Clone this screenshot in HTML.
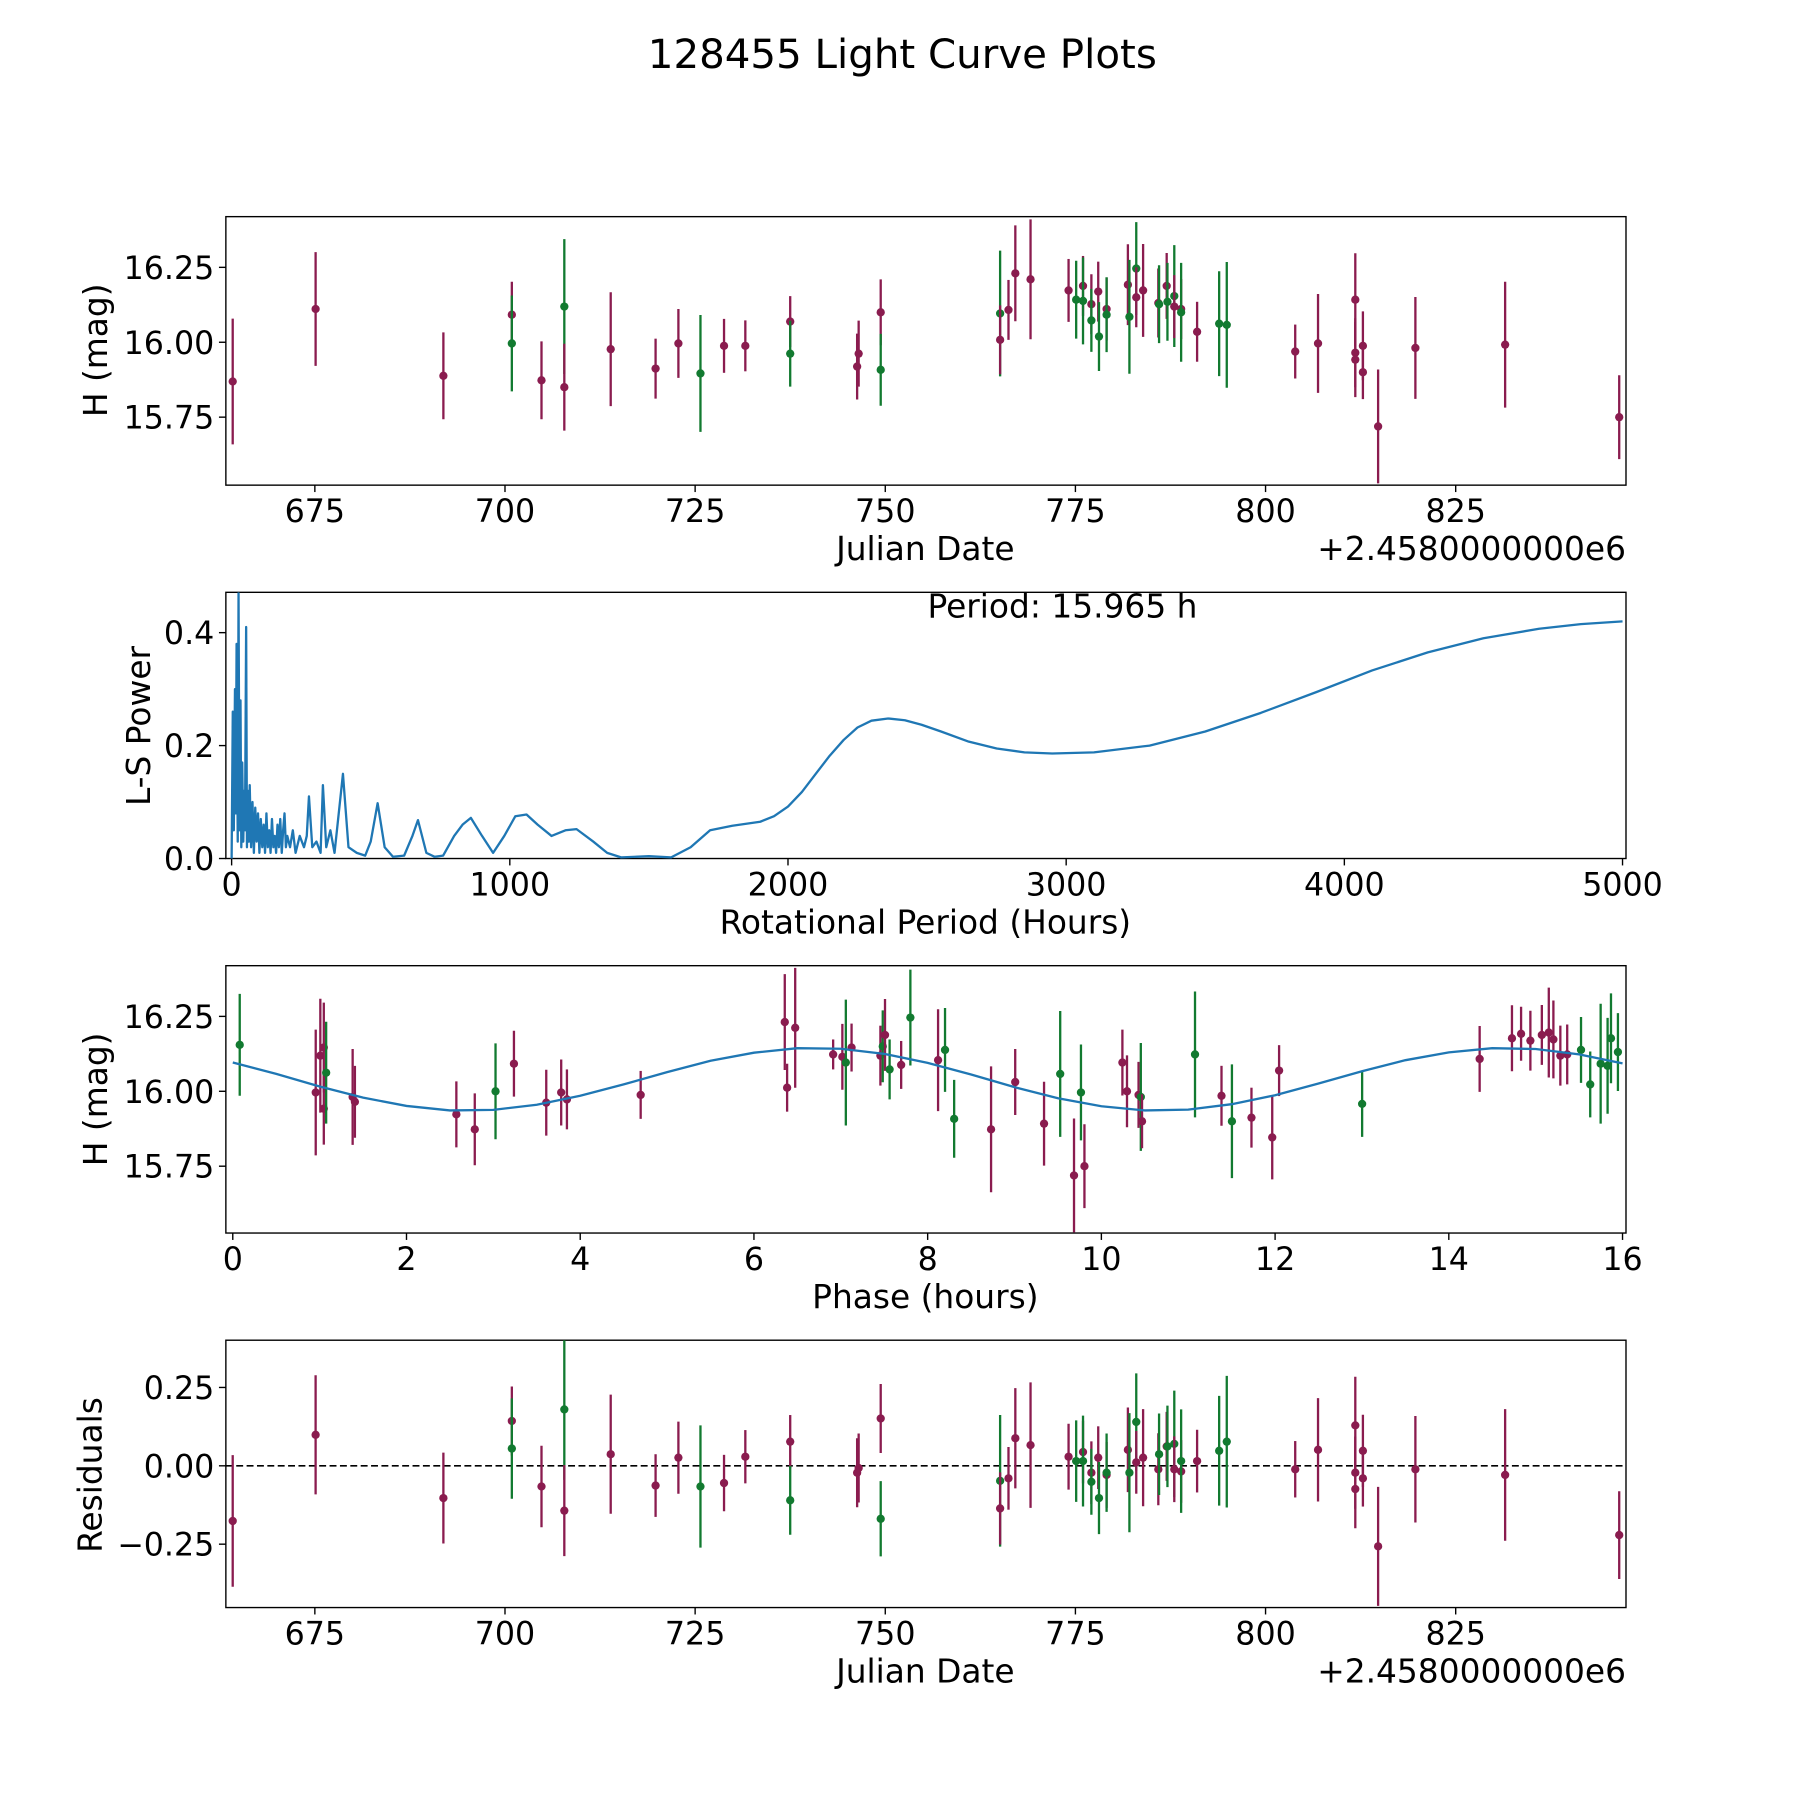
<!DOCTYPE html>
<html><head><meta charset="utf-8"><style>
html,body{margin:0;padding:0;background:#fff;}
svg text{font-family:"DejaVu Sans","Liberation Sans",sans-serif;fill:#000;}
</style></head><body>
<svg id="fig" width="1800" height="1800" viewBox="0 0 1562 1562" xmlns="http://www.w3.org/2000/svg">
<rect width="1562" height="1562" fill="#fff"/>
<text x="783" y="59" font-size="35" text-anchor="middle">128455 Light Curve Plots</text>
<defs>
<clipPath id="c1"><rect x="196" y="188" width="1215" height="233"/></clipPath>
<clipPath id="c2"><rect x="196" y="514" width="1215" height="231"/></clipPath>
<clipPath id="c3"><rect x="196" y="838" width="1215" height="232"/></clipPath>
<clipPath id="c4"><rect x="196" y="1163" width="1215" height="232"/></clipPath>
</defs>
<g id="layer"></g>
</svg>
<script>
// ---- light curve data (Julian Date offsets, H mag, error, band) ----
const jd  = [664.2,675.1,691.9,700.9,700.9,704.8,707.8,707.8,713.9,719.8,722.8,725.7,728.8,731.6,737.5,737.5,746.3,746.5,749.4,749.4,765.1,765.1,766.2,767.1,769.1,774.1,775.1,776.0,776.0,777.1,777.1,778.0,778.1,779.1,779.1,781.9,782.1,783.0,783.0,783.9,785.9,786.0,787.0,787.1,788.0,788.0,788.9,788.9,791.0,793.9,794.9,803.9,806.9,811.8,811.8,811.8,812.8,812.8,814.8,819.7,831.5,846.5];
const mag = [15.869,16.111,15.888,16.092,15.996,15.873,16.119,15.85,15.977,15.912,15.996,15.896,15.988,15.988,16.069,15.962,15.919,15.962,16.1,15.908,16.096,16.008,16.108,16.23,16.21,16.173,16.142,16.188,16.138,16.127,16.073,16.169,16.019,16.111,16.092,16.192,16.085,16.246,16.15,16.173,16.131,16.127,16.188,16.135,16.154,16.119,16.111,16.1,16.035,16.062,16.058,15.969,15.996,16.142,15.965,15.942,15.988,15.9,15.719,15.981,15.992,15.75];
const err = [0.21,0.19,0.145,0.11,0.16,0.13,0.225,0.145,0.19,0.1,0.115,0.195,0.09,0.085,0.085,0.11,0.11,0.11,0.11,0.12,0.21,0.115,0.1,0.16,0.2,0.105,0.13,0.1,0.145,0.1,0.105,0.1,0.115,0.105,0.125,0.135,0.19,0.155,0.1,0.155,0.115,0.13,0.11,0.13,0.17,0.105,0.1,0.165,0.1,0.175,0.21,0.09,0.165,0.155,0.115,0.125,0.115,0.09,0.19,0.17,0.21,0.14];
const band= ["m","m","m","m","g","m","g","m","m","m","m","g","m","m","m","g","m","m","m","g","g","m","m","m","m","m","g","m","g","m","g","m","g","m","g","m","g","g","m","m","m","g","m","g","g","m","m","g","m","g","g","m","m","m","m","m","m","m","m","m","m","m"];
const resid=[-0.176,0.099,-0.103,0.143,0.055,-0.066,0.18,-0.143,0.037,-0.063,0.026,-0.066,-0.055,0.029,0.077,-0.11,-0.022,-0.007,0.151,-0.169,-0.048,-0.136,-0.04,0.088,0.066,0.029,0.015,0.044,0.015,-0.022,-0.051,0.026,-0.103,-0.029,-0.022,0.051,-0.022,0.14,0.011,0.026,-0.011,0.037,0.062,0.062,0.07,-0.011,-0.018,0.015,0.015,0.048,0.077,-0.011,0.051,0.129,-0.022,-0.074,0.048,-0.04,-0.257,-0.011,-0.029,-0.221];
// ---- phased data ----
const ph   =[0.08,0.955,1.008,1.048,1.048,1.075,1.38,1.406,2.574,2.786,3.025,3.237,3.609,3.781,3.847,4.696,6.355,6.382,6.475,6.912,7.018,7.058,7.124,7.456,7.483,7.509,7.562,7.695,7.801,8.12,8.2,8.305,8.73,9.008,9.34,9.526,9.685,9.765,9.805,10.242,10.295,10.428,10.454,10.468,11.078,11.383,11.503,11.728,11.967,12.046,13.002,14.355,14.727,14.832,14.939,15.071,15.151,15.204,15.284,15.363,15.522,15.628,15.748,15.828,15.867,15.947];
const phMag=[16.155,15.996,16.119,16.146,15.942,16.062,15.981,15.965,15.923,15.873,16.0,16.092,15.962,15.996,15.973,15.988,16.231,16.012,16.212,16.123,16.115,16.096,16.146,16.119,16.15,16.188,16.073,16.088,16.246,16.104,16.138,15.908,15.873,16.031,15.892,16.058,15.719,15.996,15.75,16.096,16.0,15.988,15.981,15.9,16.123,15.985,15.9,15.912,15.846,16.069,15.958,16.108,16.177,16.192,16.169,16.188,16.196,16.173,16.119,16.123,16.138,16.023,16.092,16.085,16.177,16.131];
const phErr=[0.17,0.21,0.19,0.15,0.12,0.17,0.16,0.12,0.11,0.12,0.16,0.11,0.11,0.11,0.1,0.08,0.16,0.08,0.2,0.05,0.11,0.21,0.08,0.1,0.12,0.12,0.1,0.08,0.16,0.17,0.14,0.13,0.21,0.11,0.14,0.21,0.19,0.16,0.14,0.11,0.12,0.11,0.18,0.09,0.21,0.1,0.19,0.1,0.14,0.085,0.11,0.11,0.11,0.09,0.1,0.1,0.15,0.13,0.1,0.1,0.11,0.11,0.2,0.16,0.15,0.13];
const phBand=["g","m","m","m","m","g","m","m","m","m","g","m","m","m","m","m","m","m","m","m","m","g","m","m","g","m","g","m","g","m","g","g","m","m","m","g","m","g","m","m","m","m","g","m","g","m","g","m","m","m","g","m","m","m","m","m","m","m","m","m","g","g","g","g","g","g"];
// model curve sampled every 0.5 h
const modelPh =[0,0.5,1,1.5,2,2.5,3,3.5,4,4.5,5,5.5,6,6.5,7,7.5,8,8.5,9,9.5,10,10.5,11,11.5,12,12.5,13,13.5,14,14.5,15,15.5,16];
const modelMag=[16.096,16.058,16.016,15.979,15.951,15.936,15.938,15.955,15.985,16.023,16.064,16.102,16.129,16.144,16.142,16.125,16.095,16.056,16.014,15.977,15.95,15.936,15.939,15.957,15.987,16.026,16.067,16.104,16.13,16.144,16.141,16.123,16.093];
// ---- periodogram ----
const perP=[0,4,8,12,15,18,22,25,28,32,35,38,42,45,48,52,55,58,62,65,70,75,80,85,90,95,100,105,110,115,120,125,130,135,140,145,150,155,160,165,170,175,180,185,190,195,200,210,220,230,245,260,270,278,290,305,320,328,340,355,370,400,420,450,480,500,525,550,580,620,650,670,700,730,760,800,830,860,900,940,980,1020,1060,1100,1150,1200,1240,1300,1350,1400,1500,1580,1650,1720,1800,1900,1950,2000,2050,2100,2150,2200,2250,2300,2360,2420,2480,2550,2650,2750,2850,2950,3100,3300,3500,3700,3900,4100,4300,4500,4700,4850,5000];
const perV=[0.0,0.26,0.05,0.30,0.08,0.38,0.03,0.47,0.05,0.28,0.02,0.17,0.03,0.12,0.05,0.41,0.02,0.12,0.03,0.13,0.02,0.10,0.01,0.09,0.03,0.08,0.01,0.07,0.02,0.06,0.01,0.08,0.02,0.05,0.01,0.07,0.02,0.04,0.01,0.06,0.02,0.07,0.01,0.05,0.08,0.02,0.04,0.02,0.05,0.01,0.04,0.02,0.04,0.11,0.02,0.03,0.01,0.13,0.02,0.05,0.01,0.15,0.02,0.01,0.005,0.03,0.098,0.02,0.003,0.005,0.04,0.068,0.01,0.003,0.005,0.04,0.06,0.072,0.04,0.01,0.04,0.075,0.078,0.06,0.04,0.05,0.052,0.03,0.01,0.002,0.004,0.002,0.02,0.05,0.058,0.065,0.075,0.092,0.118,0.15,0.182,0.21,0.232,0.244,0.248,0.245,0.237,0.225,0.207,0.195,0.188,0.186,0.188,0.2,0.225,0.258,0.295,0.333,0.365,0.39,0.407,0.415,0.42];
// ---- tick labels ----
const jdTicks=[675,700,725,750,775,800,825];
const magTicks=[16.25,16.00,15.75];
const powTicks=[0.0,0.2,0.4];
const perTicks=[0,1000,2000,3000,4000,5000];
const phTicks=[0,2,4,6,8,10,12,14,16];
const resTicks=[0.25,0.00,-0.25];

const NS="http://www.w3.org/2000/svg";
const layer=document.getElementById('layer');
const COL={m:"#8a1c4f",g:"#127a30"};
function mk(tag,attrs,parent){const e=document.createElementNS(NS,tag);for(const k in attrs)e.setAttribute(k,attrs[k]);(parent||layer).appendChild(e);return e;}
const X1=v=>196+(v-663.3)*6.6;
const Y1=m=>232+(16.25-m)*260;
const X2=v=>201+v*0.2414;
const Y2=v=>745-v*490;
const X3=v=>202+v*75.375;
const Y3=m=>882+(16.25-m)*260;
const Y4=v=>1272-v*272;

function frame(name,top,h){const r=mk('rect',{x:196,y:top,width:1215,height:h,fill:'none',stroke:'#000','stroke-width':1.2});}
function xticks(vals,fx,bottom,fmt,name){vals.forEach(v=>{const x=fx(v);mk('line',{x1:x,x2:x,y1:bottom,y2:bottom+6,stroke:'#000','stroke-width':1.2});const t=mk('text',{x:x,y:bottom+32,'font-size':27.5,'text-anchor':'middle'});t.textContent=fmt(v);});}
function yticks(vals,fy,fmt,name){vals.forEach(v=>{const y=fy(v);mk('line',{x1:190,x2:196,y1:y,y2:y,stroke:'#000','stroke-width':1.2});const t=mk('text',{x:186,y:y+10,'font-size':27.5,'text-anchor':'end'});t.textContent=fmt(v);});}
function label(txt,x,y,rot,name){const t=mk('text',{x:x,y:y,'font-size':28.5,'text-anchor':'middle'});if(rot)t.setAttribute('transform','rotate(-90 '+x+' '+y+')');t.textContent=txt;return t;}
function minusFmt(s){return s.replace('-','\u2212');}
function points(xsArr,ysArr,esArr,bArr,fx,fy,scale,clip,name){const g=mk('g',{'clip-path':'url(#'+clip+')'});for(let i=0;i<xsArr.length;i++){const x=fx(xsArr[i]),y=fy(ysArr[i]),e=esArr[i]*scale;const c=COL[bArr[i]];const l=mk('line',{x1:x,x2:x,y1:y-e,y2:y+e,stroke:c,'stroke-width':2},g);const p=mk('circle',{cx:x,cy:y,r:3.6,fill:c},g);}}

// Panel 1
frame('lightcurve-axes',188,233);
points(jd,mag,err,band,X1,Y1,260,'c1','lightcurve');
xticks(jdTicks,X1,421,v=>String(v),'x-tick-label');
yticks(magTicks,Y1,v=>v.toFixed(2),'y-tick-label');
label('Julian Date',803,486,false,'x-axis-title');
{const t=mk('text',{x:1411,y:486,'font-size':28.5,'text-anchor':'end'});t.textContent='+2.4580000000e6';}
label('H (mag)',93,304,true,'y-axis-title');

// Panel 2
frame('periodogram-axes',514,231);
{const g=mk('g',{'clip-path':'url(#c2)'});let d='';for(let i=0;i<perP.length;i++){d+=(i?'L':'M')+X2(perP[i]).toFixed(1)+','+Y2(perV[i]).toFixed(1);}const p=mk('path',{d:d,fill:'none',stroke:'#1f77b4','stroke-width':2,'stroke-linejoin':'round'},g);}
xticks(perTicks,X2,745,v=>String(v),'x-tick-label');
yticks(powTicks,Y2,v=>v.toFixed(1),'y-tick-label');
label('Rotational Period (Hours)',803,810,false,'x-axis-title');
label('L-S Power',130,630,true,'y-axis-title');
{const t=mk('text',{x:922,y:536,'font-size':28.5,'text-anchor':'middle'});t.textContent='Period: 15.965 h';}

// Panel 3
frame('phased-axes',838,232);
points(ph,phMag,phErr,phBand,X3,Y3,260,'c3','phased');
{const g=mk('g',{'clip-path':'url(#c3)'});let d='';for(let i=0;i<modelPh.length;i++){d+=(i?'L':'M')+X3(modelPh[i]).toFixed(1)+','+Y3(modelMag[i]).toFixed(1);}const p=mk('path',{d:d,fill:'none',stroke:'#1f77b4','stroke-width':2},g);}
xticks(phTicks,X3,1070,v=>String(v),'x-tick-label');
yticks(magTicks,Y3,v=>v.toFixed(2),'y-tick-label');
label('Phase (hours)',803,1135,false,'x-axis-title');
label('H (mag)',93,954,true,'y-axis-title');

// Panel 4
frame('residuals-axes',1163,232);
mk('line',{x1:196,x2:1411,y1:Y4(0),y2:Y4(0),stroke:'#000','stroke-width':1.5,'stroke-dasharray':'6,3'});
points(jd,resid,err,band,X1,Y4,272,'c4','residual');
xticks(jdTicks,X1,1395,v=>String(v),'x-tick-label');
yticks(resTicks,Y4,v=>minusFmt(v.toFixed(2)),'y-tick-label');
label('Julian Date',803,1460,false,'x-axis-title');
{const t=mk('text',{x:1411,y:1460,'font-size':28.5,'text-anchor':'end'});t.textContent='+2.4580000000e6';}
label('Residuals',88,1280,true,'y-axis-title');
</script>
</body></html>
